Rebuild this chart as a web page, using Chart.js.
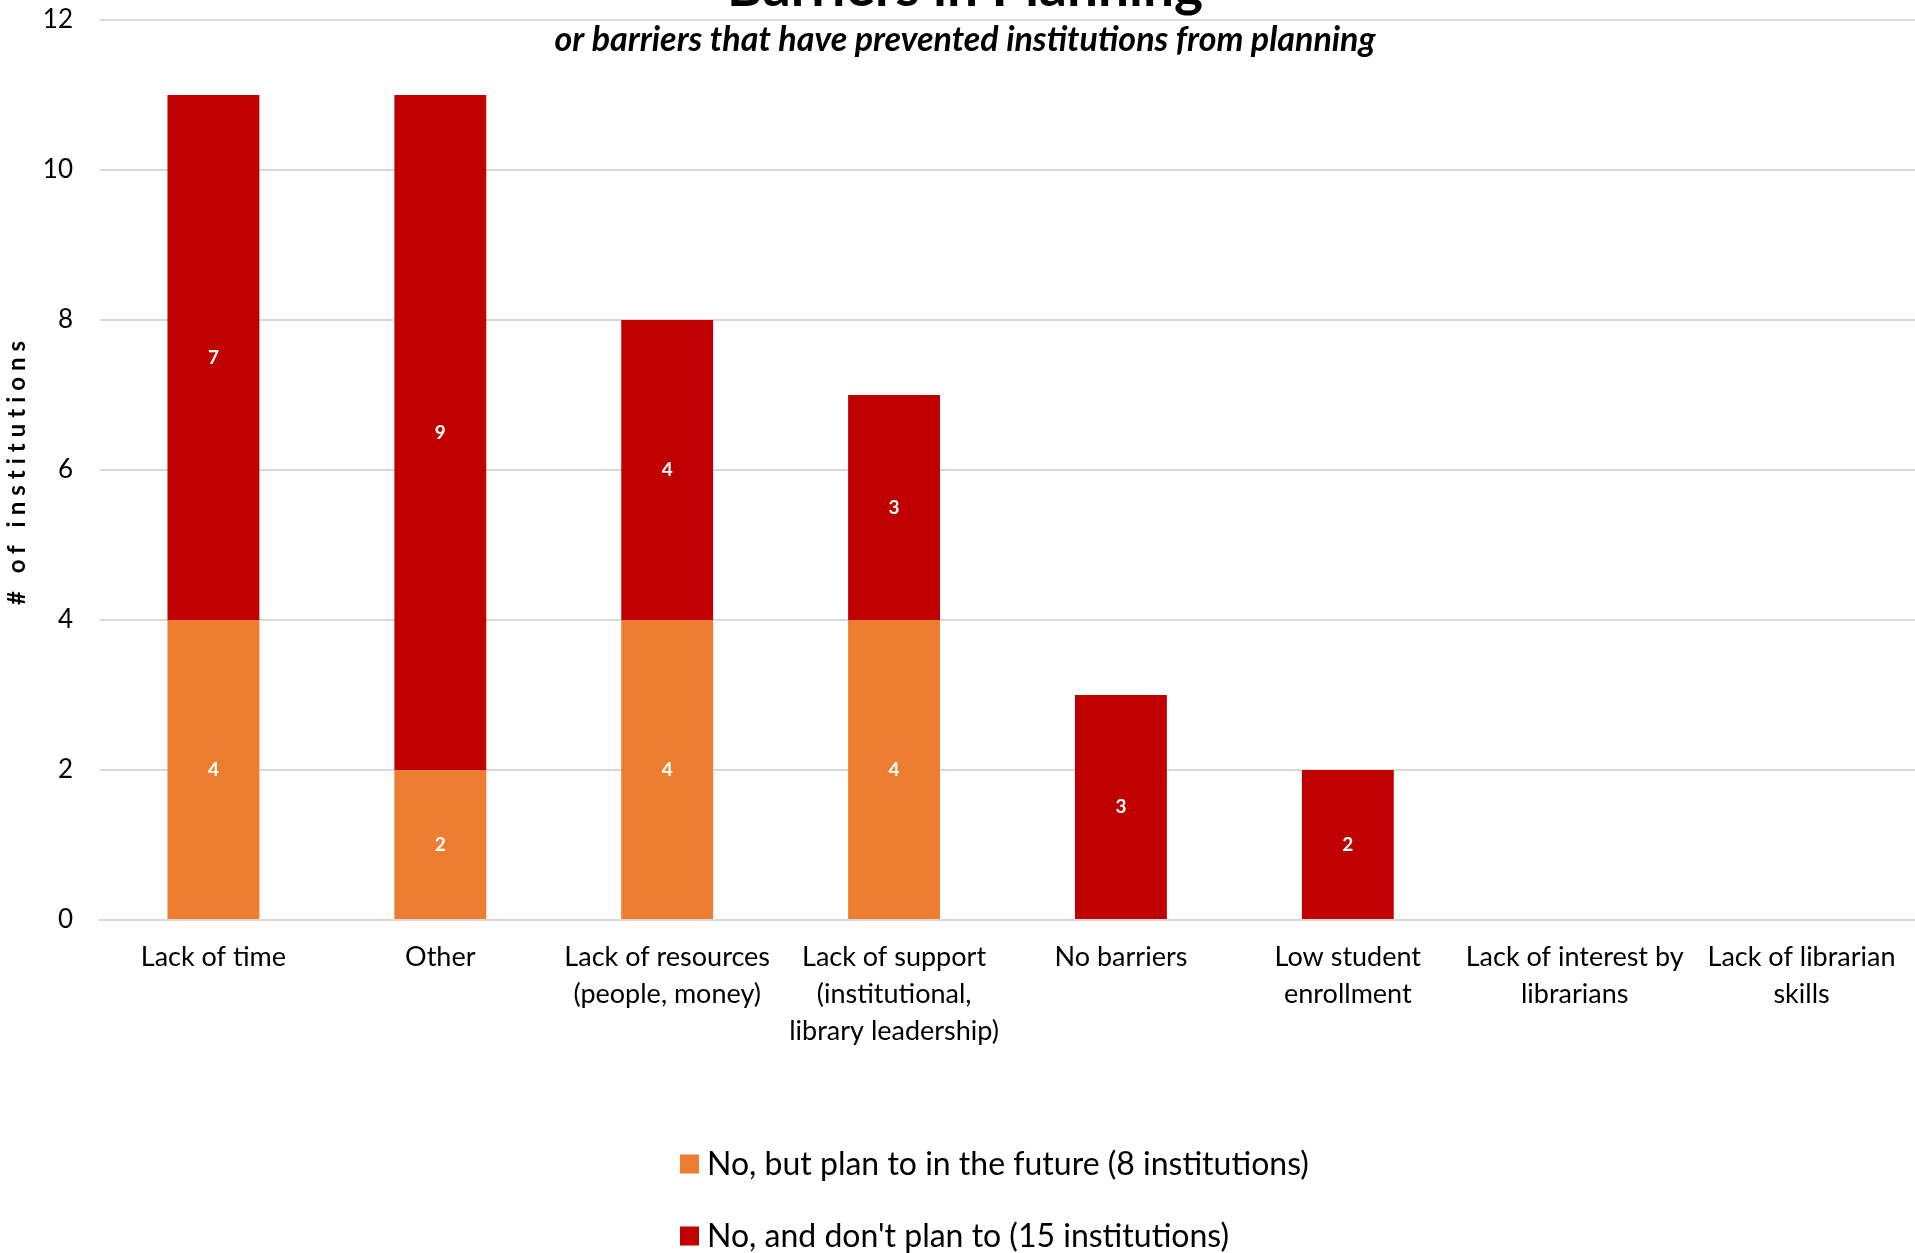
<!DOCTYPE html>
<html>
<head>
<meta charset="utf-8">
<script src="https://cdn.jsdelivr.net/npm/chart.js@4.4.1/dist/chart.umd.min.js"></script>
<style>
  html, body { margin: 0; padding: 0; background: #ffffff; }
  #wrap { position: relative; width: 1915px; height: 1253px; overflow: hidden; }
  canvas { display: block; }
</style>
</head>
<body>
<div id="wrap"><canvas id="c" width="1915" height="1253"></canvas></div>
<script>
// ---- data ----
const categories = [
  ["Lack of time"],
  ["Other"],
  ["Lack of resources", "(people, money)"],
  ["Lack of support", "(institutional,", "library leadership)"],
  ["No barriers"],
  ["Low student", "enrollment"],
  ["Lack of interest by", "librarians"],
  ["Lack of librarian", "skills"]
];
const planFuture = [4, 2, 4, 4, 0, 0, 0, 0];
const noPlan = [7, 9, 4, 3, 3, 2, 0, 0];
const seriesNames = [
  "No, but plan to in the future (8 institutions)",
  "No, and don't plan to (15 institutions)"
];
const titleText = "Barriers in Planning";
const subtitleText = "or barriers that have prevented institutions from planning";
const yAxisTitle = "# of institutions";
const yTicks = [0, 2, 4, 6, 8, 10, 12];

const FONT = "Lato, 'Open Sans', sans-serif";
const ORANGE = "#ED7D31";
const RED = "#C00000";
const GRID = "#D9D9D9";

const overlayPlugin = {
  id: "overlay",
  afterDatasetsDraw(chart) {
    const ctx = chart.ctx;
    ctx.save();
    ctx.fillStyle = "#ffffff";
    ctx.font = "bold 19px " + FONT;
    ctx.textAlign = "center";
    ctx.textBaseline = "middle";
    chart.data.datasets.forEach((ds, di) => {
      const meta = chart.getDatasetMeta(di);
      meta.data.forEach((bar, i) => {
        const v = ds.data[i];
        if (!v) return;
        ctx.fillText(String(v), bar.x, (bar.y + bar.base) / 2);
      });
    });
    ctx.restore();
  },
  afterDraw(chart) {
    const ctx = chart.ctx;
    ctx.save();
    ctx.fillStyle = "#000000";
    ctx.textAlign = "center";
    ctx.textBaseline = "alphabetic";
    ctx.font = "bold 55px " + FONT;
    ctx.fillText(titleText, 965, 6);
    ctx.font = "italic bold 34px " + FONT;
    ctx.fillText(subtitleText, 965, 51);

    ctx.save();
    ctx.translate(17, 470);
    ctx.rotate(-Math.PI / 2);
    ctx.font = "bold 24px " + FONT;
    ctx.letterSpacing = "6px";
    ctx.textAlign = "center";
    ctx.textBaseline = "middle";
    ctx.fillText(yAxisTitle, 0, 0);
    ctx.restore();

    const rows = [1164, 1236];
    ctx.font = "32px " + FONT;
    ctx.textAlign = "left";
    ctx.textBaseline = "middle";
    chart.data.datasets.forEach((ds, i) => {
      const y = rows[i];
      ctx.fillStyle = ds.backgroundColor;
      ctx.fillRect(680, y - 9.5, 19, 19);
      ctx.fillStyle = "#000000";
      ctx.fillText(ds.label, 707, y + 1);
    });
    ctx.restore();
  }
};

new Chart(document.getElementById("c"), {
  type: "bar",
  data: {
    labels: categories,
    datasets: [
      { label: seriesNames[0], data: planFuture, backgroundColor: ORANGE, borderWidth: 0 },
      { label: seriesNames[1], data: noPlan, backgroundColor: RED, borderWidth: 0 }
    ]
  },
  options: {
    responsive: false,
    animation: false,
    devicePixelRatio: 1,
    layout: { padding: { top: 20, right: 0, bottom: 0, left: 0 } },
    plugins: {
      legend: { display: false },
      title: { display: false },
      tooltip: { enabled: false }
    },
    datasets: { bar: { barPercentage: 0.405, categoryPercentage: 1.0 } },
    scales: {
      x: {
        stacked: true,
        grid: { display: false },
        border: { display: true, color: GRID, width: 2 },
        ticks: {
          autoSkip: false,
          maxRotation: 0,
          minRotation: 0,
          padding: 11,
          color: "#000000",
          font: { family: FONT, size: 27, lineHeight: 1.36 }
        },
        afterFit(scale) { scale.height = 333; }
      },
      y: {
        stacked: true,
        min: 0,
        max: 12,
        afterBuildTicks(scale) { scale.ticks = yTicks.map(v => ({ value: v })); },
        grid: { color: GRID, lineWidth: 2, drawTicks: false },
        border: { display: false },
        ticks: {
          padding: 27,
          color: "#000000",
          font: { family: FONT, size: 26 }
        },
        afterFit(scale) {
          scale.width = 100;
          scale.paddingTop = 0;
          scale.paddingBottom = 0;
        }
      }
    }
  },
  plugins: [overlayPlugin]
});
</script>
</body>
</html>
